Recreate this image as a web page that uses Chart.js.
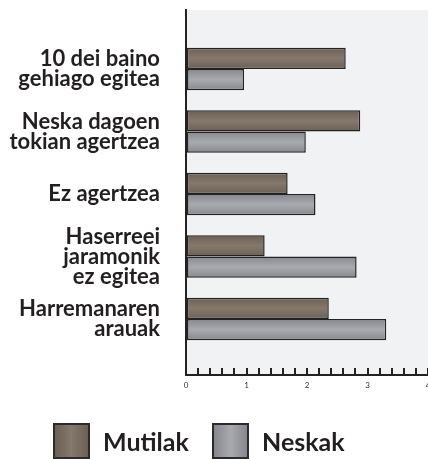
<!DOCTYPE html>
<html>
<head>
<meta charset="utf-8">
<script src="https://cdn.jsdelivr.net/npm/chart.js@4.4.1/dist/chart.umd.min.js"></script>
<style>
  html, body { margin: 0; padding: 0; background: #fff; }
  #wrap { position: relative; width: 428px; height: 459px; overflow: hidden; }
  #chart { position: absolute; left: 0; top: 0; }
  .key { position: absolute; top: 423px; height: 36px; display: flex; align-items: center;
         font: bold 25px Lato, sans-serif; color: #231f20; }
  .swatch { width: 33px; height: 32px; border: 2px solid #2b2b2b; margin-right: 13px; }
</style>
</head>
<body>
<div id="wrap">
  <canvas id="chart" width="428" height="459"></canvas>
  <div class="key" style="left:53px"><div class="swatch" id="sw0"></div><span id="lg0"></span></div>
  <div class="key" style="left:212px"><div class="swatch" id="sw1"></div><span id="lg1"></span></div>
</div>
<script>
// categories, top to bottom
var kategoriak = [
    ['10 dei baino', 'gehiago egitea'],
    ['Neska dagoen', 'tokian agertzea'],
    ['Ez agertzea'],
    ['Haserreei', 'jaramonik', 'ez egitea'],
    ['Harremanaren', 'arauak']
];
var serieIzenak = ['Mutilak', 'Neskak'];
var mutilak = [2.64, 2.88, 1.68, 1.30, 2.36];
var neskak = [0.96, 1.98, 2.14, 2.82, 3.31];
var xTickLabels = ['0', '1', '2', '3', '4'];

// dark edge / light middle colours for each series
var koloreak = [
    ['#6b6053', '#84796c'],
    ['#86888d', '#a8aaaf']
];

function toPoints(values) {
    return values.map(function (v, i) { return { x: v, y: i }; });
}

// vertical gradient across each bar's thickness
function barFill(c) {
    var cols = koloreak[c.datasetIndex];
    var chart = c.chart;
    var yScale = chart.scales.y;
    if (c.type !== 'data' || !yScale || !chart.chartArea) return cols[0];
    var center = yScale.getPixelForValue(c.parsed.y);
    var step = Math.abs(yScale.getPixelForValue(1) - yScale.getPixelForValue(0));
    var t = step * 0.68 / 2;
    var top = c.datasetIndex === 0 ? center - t : center;
    var g = chart.ctx.createLinearGradient(0, top, 0, top + t);
    g.addColorStop(0, cols[0]);
    g.addColorStop(0.5, cols[1]);
    g.addColorStop(1, cols[0]);
    return g;
}

var plotBg = {
    id: 'plotBg',
    beforeDraw: function (chart) {
        var a = chart.chartArea;
        var ctx = chart.ctx;
        ctx.save();
        ctx.fillStyle = '#f1f2f4';
        ctx.fillRect(a.left, a.top, a.right - a.left, a.bottom - a.top);
        ctx.restore();
    }
};

const config = {
    type: 'bar',
    data: {
        datasets: [{
            label: serieIzenak[0],
            data: toPoints(mutilak),
            backgroundColor: barFill,
            borderColor: '#232323',
            borderWidth: 1.5,
            borderSkipped: false
        }, {
            label: serieIzenak[1],
            data: toPoints(neskak),
            backgroundColor: barFill,
            borderColor: '#232323',
            borderWidth: 1.5,
            borderSkipped: false
        }]
    },
    options: {
        indexAxis: 'y',
        responsive: false,
        animation: false,
        categoryPercentage: 0.68,
        barPercentage: 1,
        layout: { padding: { top: 10, right: 0, bottom: 64, left: 0 } },
        plugins: {
            legend: { display: false },
            tooltip: { enabled: false }
        },
        scales: {
            x: {
                type: 'linear',
                min: 0,
                max: 4,
                border: { display: true, color: '#222', width: 2 },
                grid: { display: true, drawOnChartArea: false, drawTicks: true, tickLength: -7, color: '#222', lineWidth: 2 },
                ticks: {
                    stepSize: 0.2,
                    autoSkip: false,
                    maxRotation: 0,
                    padding: 13,
                    color: '#333',
                    font: { family: 'Lato, sans-serif', size: 8 },
                    callback: function (v) {
                        var r = Math.round(v);
                        return Math.abs(v - r) < 1e-6 ? xTickLabels[r] : '';
                    }
                },
                afterFit: function (scale) {
                    scale.height = 20;
                    scale.paddingLeft = 0;
                    scale.paddingRight = 0;
                }
            },
            y: {
                type: 'linear',
                reverse: true,
                offset: false,
                min: -0.944,
                max: 4.896,
                border: { display: true, color: '#222', width: 2 },
                grid: { display: false, drawTicks: false, offset: false },
                ticks: {
                    stepSize: 1,
                    includeBounds: false,
                    autoSkip: false,
                    padding: 26,
                    color: '#231f20',
                    font: { family: 'Lato, sans-serif', size: 22, weight: 'bold', lineHeight: '20px' },
                    callback: function (v) {
                        var r = Math.round(v);
                        return (Math.abs(v - r) < 1e-6 && kategoriak[r]) ? kategoriak[r] : '';
                    }
                },
                afterFit: function (scale) {
                    scale.width = 186;
                    scale.paddingTop = 0;
                    scale.paddingBottom = 0;
                }
            }
        }
    },
    plugins: [plotBg]
};

var myChart = new Chart(document.getElementById('chart'), config);

// legend below the chart
for (var i = 0; i < serieIzenak.length; i++) {
    var k = koloreak[i];
    document.getElementById('sw' + i).style.background =
        'linear-gradient(to right, ' + k[0] + ', ' + k[1] + ' 50%, ' + k[0] + ')';
    document.getElementById('lg' + i).textContent = serieIzenak[i];
}
</script>
</body>
</html>
